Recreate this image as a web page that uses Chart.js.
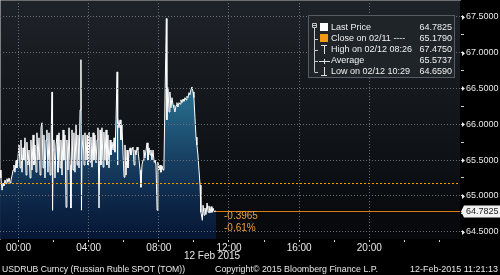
<!DOCTYPE html>
<html>
<head>
<meta charset="utf-8">
<script src="https://cdn.jsdelivr.net/npm/chart.js@4.4.1/dist/chart.umd.min.js"></script>
<style>
  html, body { margin: 0; padding: 0; background: #000; }
  #wrap { width: 500px; height: 275px; }
</style>
</head>
<body>
<div id="wrap"><canvas id="usdrub" width="500" height="275"></canvas></div>
<script>
// USDRUB intraday, hours from midnight 12 Feb 2015 (negative = late 11 Feb)
const times = [
  -1.05, -1.00, -0.94, -0.88, -0.83, -0.77, -0.71, -0.66, -0.60, -0.54, -0.48, -0.43, -0.37, -0.31, -0.26, -0.20, -0.14, -0.09, -0.03,
  0.03, 0.09, 0.14, 0.20, 0.26, 0.31, 0.37, 0.43, 0.48, 0.54, 0.60, 0.66, 0.71, 0.77, 0.83, 0.88, 0.94, 1.00, 1.05, 1.11, 1.17, 1.23,
  1.28, 1.34, 1.40, 1.45, 1.51, 1.57, 1.62, 1.68, 1.74, 1.80, 1.85, 1.91, 1.94, 1.97,
  2.02, 2.08, 2.14, 2.20, 2.25, 2.31, 2.37, 2.42, 2.48, 2.54, 2.59, 2.65, 2.71, 2.76, 2.82, 2.88, 2.94, 2.99,
  3.05, 3.11, 3.16, 3.22, 3.28, 3.34, 3.39, 3.45, 3.51, 3.56, 3.59, 3.62, 3.68, 3.74, 3.79, 3.85, 3.91, 3.96,
  4.02, 4.08, 4.13, 4.19, 4.25, 4.30, 4.36, 4.42, 4.48, 4.53, 4.59, 4.65, 4.70, 4.76, 4.82, 4.87, 4.93, 4.99,
  5.04, 5.10, 5.16, 5.22, 5.27, 5.33, 5.39, 5.45, 5.50, 5.56, 5.62, 5.64, 5.67, 5.73, 5.79, 5.84, 5.90, 5.96,
  6.02, 6.07, 6.13, 6.19, 6.24, 6.30, 6.36, 6.41, 6.47, 6.53, 6.59, 6.64, 6.70, 6.76, 6.81, 6.87, 6.93, 6.98,
  7.04, 7.10, 7.15, 7.21, 7.27, 7.33, 7.38, 7.44, 7.50, 7.55, 7.61, 7.67, 7.73, 7.78, 7.84, 7.90, 7.95,
  8.01, 8.07, 8.12, 8.18, 8.24, 8.29, 8.35, 8.43, 8.46, 8.52, 8.58, 8.63, 8.69, 8.75, 8.81, 8.86, 8.92, 8.98,
  9.03, 9.09, 9.15, 9.21, 9.26, 9.32, 9.38, 9.43, 9.49, 9.55, 9.60, 9.66, 9.72, 9.77, 9.83, 9.89, 9.95,
  10.00, 10.06, 10.12, 10.17, 10.23, 10.29, 10.35, 10.40, 10.46, 10.48, 10.52, 10.58, 10.63, 10.69, 10.75, 10.81, 10.86, 10.92, 10.98,
  11.03, 11.09, 11.15, 11.20, 11.26
];
const prices = [
  65.36, 65.25, 65.08, 65.18, 65.14, 65.22, 65.17, 65.24, 65.19, 65.25, 65.18, 65.22, 65.28, 65.36, 65.43, 65.33, 65.50, 65.39, 65.54,
  65.71, 65.39, 65.78, 65.33, 65.67, 65.50, 65.81, 65.29, 65.75, 65.43, 65.64, 65.25, 65.78, 65.36, 65.85, 65.43, 65.71, 65.33, 65.88, 65.50, 65.81, 65.29,
  65.95, 66.02, 65.39, 65.85, 65.25, 65.78, 65.92, 65.33, 65.88, 65.29, 65.71, 66.45, 64.80, 65.64,
  65.78, 65.25, 65.71, 65.85, 65.33, 65.88, 65.39, 65.78, 65.29, 65.92, 65.50, 65.85, 64.84, 65.78, 65.36, 65.95, 65.43, 64.83,
  65.92, 65.36, 65.88, 65.33, 65.99, 65.43, 65.85, 65.39, 66.20, 66.90, 64.80, 65.64, 65.85, 65.43, 65.88, 65.50, 65.85, 65.43,
  65.89, 65.47, 65.82, 65.40, 65.88, 65.50, 65.85, 65.46, 65.78, 65.95, 64.83, 65.92, 65.43, 65.95, 65.40, 65.89, 65.50, 65.92,
  65.43, 65.85, 65.39, 65.78, 65.57, 65.75, 65.64, 65.81, 65.61, 66.06, 66.73, 65.43, 66.09, 65.95, 66.06, 65.78, 65.99, 65.57,
  65.26, 65.71, 65.29, 65.64, 65.39, 65.61, 65.67, 65.57, 65.64, 65.68, 65.43, 65.64, 65.57, 65.68, 65.64, 65.50, 65.36, 65.12,
  65.43, 65.50, 65.64, 65.53, 65.64, 65.74, 65.50, 65.67, 65.57, 65.64, 65.50, 65.64, 65.47, 65.50, 65.43, 64.80, 65.47,
  65.36, 65.43, 65.33, 65.42, 65.36, 65.39, 66.34, 67.475, 66.06, 66.51, 66.17, 66.45, 66.23, 66.37, 66.27, 66.23, 66.17, 66.26,
  66.30, 66.24, 66.30, 66.28, 66.34, 66.30, 66.35, 66.32, 66.37, 66.34, 66.39, 66.37, 66.44, 66.41, 66.48, 66.52, 66.45,
  66.37, 66.09, 65.82, 65.71, 65.57, 65.36, 65.15, 64.77, 64.69, 64.659, 64.87, 64.73, 64.83, 64.74, 64.90, 64.77, 64.86, 64.76, 64.85,
  64.77, 64.83, 64.78, 64.79, 64.7825
];

const lastPrice = 64.7825;
const prevClose = 65.1790;
const highPrice = 67.4750;
const avgPrice = 65.5737;
const lowPrice = 64.6590;
const netChange = '-0.3965';
const pctChange = '-0.61%';

const xTicks = [0, 2, 4, 6, 8, 10, 12, 14, 16, 18, 20, 22, 24];
const yTicks = [64.5, 64.75, 65, 65.25, 65.5, 65.75, 66, 66.25, 66.5, 66.75, 67, 67.25, 67.5];

const legendLabels = ['Last Price', 'Close on 02/11 ----', 'High on 02/12 08:26', 'Average', 'Low on 02/12 10:29'];
const legendValues = [lastPrice, prevClose, highPrice, avgPrice, lowPrice];

const FONT = '"Liberation Sans", Arial, sans-serif';
Chart.defaults.font.family = FONT;
Chart.defaults.font.size = 10;
Chart.defaults.color = '#e8e8e8';

const isMajorX = (v) => v % 4 === 0 && v < 24;
const isMajorY = (v) => Math.abs(v * 2 - Math.round(v * 2)) < 1e-6;

function drawLegend(ctx) {
  const left = 308, top = 15, width = 147, height = 63;
  ctx.fillStyle = '#1f2428';
  ctx.fillRect(left, top, width, height);
  ctx.strokeStyle = '#555b61';
  ctx.lineWidth = 1;
  ctx.strokeRect(left + 0.5, top + 0.5, width - 1, height - 1);

  const rowY = (i) => 27.5 + i * 11.1;

  // tree connector
  ctx.strokeStyle = '#c8c8c8';
  ctx.beginPath();
  ctx.rect(312.5, 23.5, 4, 4);
  ctx.moveTo(313, 25.5); ctx.lineTo(316, 25.5);
  ctx.moveTo(314.5, 27.5); ctx.lineTo(314.5, rowY(4));
  for (let i = 1; i < 5; i++) {
    ctx.moveTo(314.5, Math.round(rowY(i)) + 0.5);
    ctx.lineTo(318, Math.round(rowY(i)) + 0.5);
  }
  ctx.stroke();

  // icons
  ctx.fillStyle = '#ffffff';
  ctx.fillRect(320, 23, 8, 8);
  ctx.fillStyle = '#f29a12';
  ctx.fillRect(320, 34, 8, 8);
  ctx.strokeStyle = '#e0e0e0';
  ctx.beginPath();
  // high
  ctx.moveTo(321, 45.5); ctx.lineTo(327, 45.5);
  ctx.moveTo(324.5, 45.5); ctx.lineTo(324.5, 54);
  // average
  ctx.moveTo(319, 61.5); ctx.lineTo(330, 61.5);
  ctx.moveTo(324.5, 59); ctx.lineTo(324.5, 64);
  // low
  ctx.moveTo(324.5, 67); ctx.lineTo(324.5, 75.5);
  ctx.moveTo(321, 75.5); ctx.lineTo(327, 75.5);
  ctx.stroke();

  ctx.font = '9px ' + FONT;
  ctx.fillStyle = '#f0f0f0';
  ctx.textBaseline = 'middle';
  legendLabels.forEach((label, i) => {
    ctx.textAlign = 'left';
    ctx.fillText(label, 331, rowY(i), 85);
    ctx.textAlign = 'right';
    ctx.fillText(legendValues[i].toFixed(4), 452, rowY(i));
  });
}

const decor = {
  id: 'decor',
  beforeDraw(chart) {
    const { ctx, chartArea: a } = chart;
    ctx.save();
    ctx.fillStyle = '#000';
    ctx.fillRect(0, 0, chart.width, chart.height);
    const g = ctx.createLinearGradient(0, a.top, 0, a.bottom);
    g.addColorStop(0, '#1e2329');
    g.addColorStop(1, '#06080b');
    ctx.fillStyle = g;
    ctx.fillRect(a.left, a.top, a.right - a.left, a.bottom - a.top);
    ctx.restore();
  },
  afterDraw(chart) {
    const { ctx, chartArea: a, scales: { x, y } } = chart;
    ctx.save();
    ctx.lineWidth = 1;

    // previous close, dotted
    const yc = Math.round(y.getPixelForValue(prevClose)) + 0.5;
    ctx.strokeStyle = '#ff9800';
    ctx.setLineDash([2, 2]);
    ctx.beginPath(); ctx.moveTo(a.left, yc); ctx.lineTo(a.right, yc); ctx.stroke();
    ctx.setLineDash([]);

    // last price line and change text
    const yl = Math.round(y.getPixelForValue(lastPrice)) + 0.5;
    const xl = x.getPixelForValue(times[times.length - 1]);
    ctx.strokeStyle = '#e07a10';
    ctx.beginPath(); ctx.moveTo(xl, yl); ctx.lineTo(a.right, yl); ctx.stroke();
    ctx.fillStyle = '#eba040';
    ctx.font = '10px ' + FONT;
    ctx.textBaseline = 'middle';
    ctx.textAlign = 'left';
    ctx.fillText(netChange, xl + 8, yl + 5);
    ctx.fillText(pctChange, xl + 8, yl + 17);

    // arrows on major y ticks
    ctx.fillStyle = '#e8e8e8';
    yTicks.filter(isMajorY).forEach((v) => {
      const py = Math.round(y.getPixelForValue(v)) + 0.5;
      ctx.beginPath();
      ctx.moveTo(a.right + 2, py - 2.5);
      ctx.lineTo(a.right + 5, py);
      ctx.lineTo(a.right + 2, py + 2.5);
      ctx.closePath();
      ctx.fill();
    });

    // last price tag
    ctx.fillStyle = '#f2f2f2';
    ctx.beginPath();
    ctx.moveTo(a.right + 1, yl);
    ctx.lineTo(a.right + 4, yl - 6);
    ctx.lineTo(500, yl - 6);
    ctx.lineTo(500, yl + 6);
    ctx.lineTo(a.right + 4, yl + 6);
    ctx.closePath();
    ctx.fill();
    ctx.fillStyle = '#202020';
    ctx.font = '9px ' + FONT;
    ctx.fillText(lastPrice.toFixed(4), a.right + 6, yl);

    drawLegend(ctx);

    // date under the axis and footer
    ctx.fillStyle = '#e8e8e8';
    ctx.font = '10px ' + FONT;
    ctx.textAlign = 'center';
    ctx.textBaseline = 'middle';
    ctx.fillText('12 Feb 2015', 212, 256);
    ctx.font = '9.5px ' + FONT;
    ctx.textAlign = 'left';
    ctx.fillText('USDRUB Curncy (Russian Ruble SPOT (TOM))', 2, 269.5, 183);
    ctx.fillText('Copyright\u00a9 2015 Bloomberg Finance L.P.', 215, 269.5, 163);
    ctx.textAlign = 'right';
    ctx.fillText('12-Feb-2015 11:21:13', 498, 269.5, 88);
    ctx.restore();
  }
};

const ctx = document.getElementById('usdrub').getContext('2d');

const usdrubChart = new Chart(ctx, {
  type: 'line',
  data: {
    datasets: [{
      label: 'Last Price',
      data: times.map((t, i) => ({ x: t, y: prices[i] })),
      borderColor: '#ffffff',
      borderWidth: 1,
      pointRadius: 0,
      tension: 0,
      fill: 'start',
      backgroundColor: (c) => {
        const a = c.chart.chartArea;
        if (!a) return 'rgba(0,0,0,0)';
        const g = c.chart.ctx.createLinearGradient(0, a.top, 0, a.bottom);
        g.addColorStop(0, '#3f8fb3');
        g.addColorStop(0.45, '#256585');
        g.addColorStop(0.67, '#173f62');
        g.addColorStop(0.84, '#0d2748');
        g.addColorStop(1, '#061634');
        return g;
      }
    }]
  },
  options: {
    responsive: false,
    animation: false,
    devicePixelRatio: 1,
    layout: { padding: { left: 0, right: 0, top: 0, bottom: 22 } },
    plugins: {
      legend: { display: false },
      tooltip: { enabled: false }
    },
    scales: {
      x: {
        type: 'linear',
        min: -1.055,
        max: 25.17,
        afterBuildTicks: (s) => { s.ticks = xTicks.map((v) => ({ value: v })); },
        afterFit: (s) => { s.height = 14; s.paddingLeft = 0; s.paddingRight = 0; },
        ticks: {
          autoSkip: false,
          maxRotation: 0,
          padding: 0,
          color: '#e8e8e8',
          callback: (v) => (isMajorX(v) ? String(v).padStart(2, '0') + ':00' : '')
        },
        grid: {
          z: 1,
          color: (c) => (c.tick && isMajorX(c.tick.value) ? '#6a7076' : 'rgba(0,0,0,0)'),
          borderDash: [1, 2],
          tickColor: '#c8c8c8',
          tickLength: 3
        },
        border: { color: '#b8b8b8', dash: [1, 2] }
      },
      y: {
        type: 'linear',
        position: 'right',
        min: 64.398,
        max: 67.733,
        afterBuildTicks: (s) => { s.ticks = yTicks.map((v) => ({ value: v })); },
        afterFit: (s) => { s.width = 40; s.paddingTop = 0; s.paddingBottom = 0; },
        ticks: {
          autoSkip: false,
          padding: 2,
          color: '#e8e8e8',
          font: { size: 9 },
          callback: (v) => (isMajorY(v) ? v.toFixed(4) : '')
        },
        grid: {
          z: 1,
          color: (c) => (c.tick && isMajorY(c.tick.value) ? '#6a7076' : 'rgba(0,0,0,0)'),
          borderDash: [1, 2],
          tickColor: '#c8c8c8',
          tickLength: 4
        },
        border: { color: '#e0e0e0', dash: [1, 2] }
      }
    }
  },
  plugins: [decor]
});
</script>
</body>
</html>
